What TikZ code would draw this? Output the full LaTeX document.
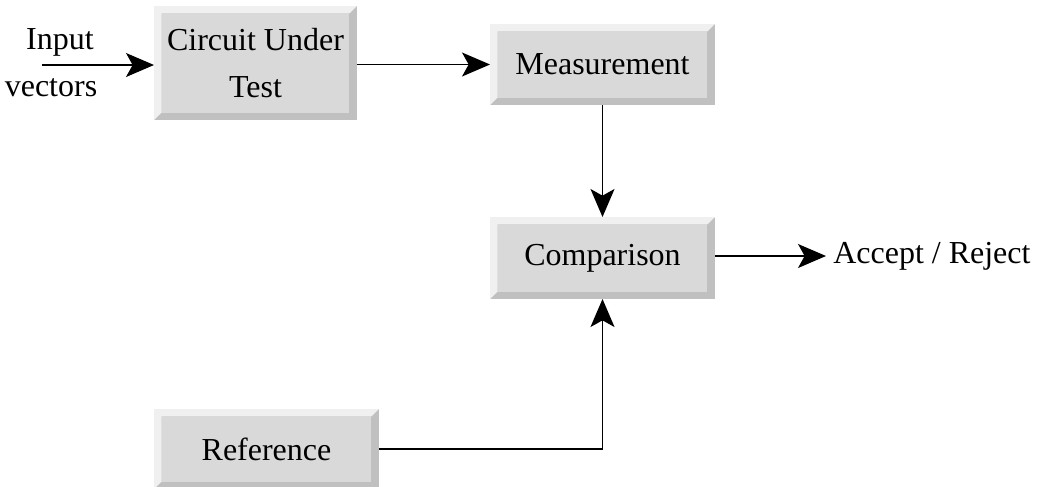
\documentclass[tikz,border=0pt]{standalone}
\usepackage{fontspec}
\setmainfont{Liberation Serif}
\usetikzlibrary{arrows.meta}
\definecolor{face}{HTML}{D9D9D9}
\definecolor{bevlight}{HTML}{F0F0F0}
\definecolor{bevdark}{HTML}{C0C0C0}
\newcommand{\bevelit}[1]{%
  \fill[bevdark] (#1.south west) rectangle (#1.north east);
  \fill[bevlight] (#1.south west) -- (#1.north west) -- (#1.north east)
     -- ([shift={(-5.8pt,-5.6pt)}]#1.north east) -- ([shift={(5.8pt,-5.6pt)}]#1.north west)
     -- ([shift={(5.8pt,5.6pt)}]#1.south west) -- cycle;
  \fill[face] ([shift={(5.8pt,5.6pt)}]#1.south west) rectangle ([shift={(-5.8pt,-5.6pt)}]#1.north east);
  \node[txt] at (#1.center) {\csname btext#1\endcsname};
}
\begin{document}
\begin{tikzpicture}[x=0.75pt,y=-0.75pt,
  txt/.style={font=\fontsize{24pt}{35pt}\selectfont, align=center, inner sep=0pt},
  boxnode/.style={rectangle, inner sep=0pt, outer sep=0pt, minimum width=#1*0.75pt},
  conn/.style={line width=0.9pt, draw=black},
  arr/.style={conn, -{Stealth[length=21pt, width=18pt, inset=5pt]}}]
\useasboundingbox (0,0) rectangle (1041,486);
% boxes
\node[boxnode=203, minimum height=85.5pt] (cut) at (255.5,63) {};
\node[boxnode=225, minimum height=60.75pt] (meas) at (602.5,64.5) {};
\node[boxnode=225, minimum height=61.5pt] (comp) at (602.5,258) {};
\node[boxnode=225, minimum height=60pt] (ref) at (266.5,449) {};
\expandafter\def\csname btextcut\endcsname{Circuit Under\\Test}
\expandafter\def\csname btextmeas\endcsname{Measurement}
\expandafter\def\csname btextcomp\endcsname{Comparison}
\expandafter\def\csname btextref\endcsname{Reference}
\bevelit{cut}
\bevelit{meas}
\bevelit{comp}
\bevelit{ref}
% labels
\node[txt] (in1) at (60,42) {Input};
\node[txt] (in2) at (51,88) {vectors};
\node[txt, anchor=west] (acc) at (833,256) {Accept / Reject};
\coordinate (inp) at (42,65);
\coordinate (accend) at (826,256);
% connectors
\draw[arr] (inp) -- (inp -| cut.west);
\draw[arr] (cut.east |- meas.west) -- (meas.west);
\draw[arr] (meas.south) -- (comp.north);
\draw[arr] (comp.east |- accend) -- (accend);
\draw[arr] (ref.east) -| (comp.south);
\end{tikzpicture}
\end{document}
